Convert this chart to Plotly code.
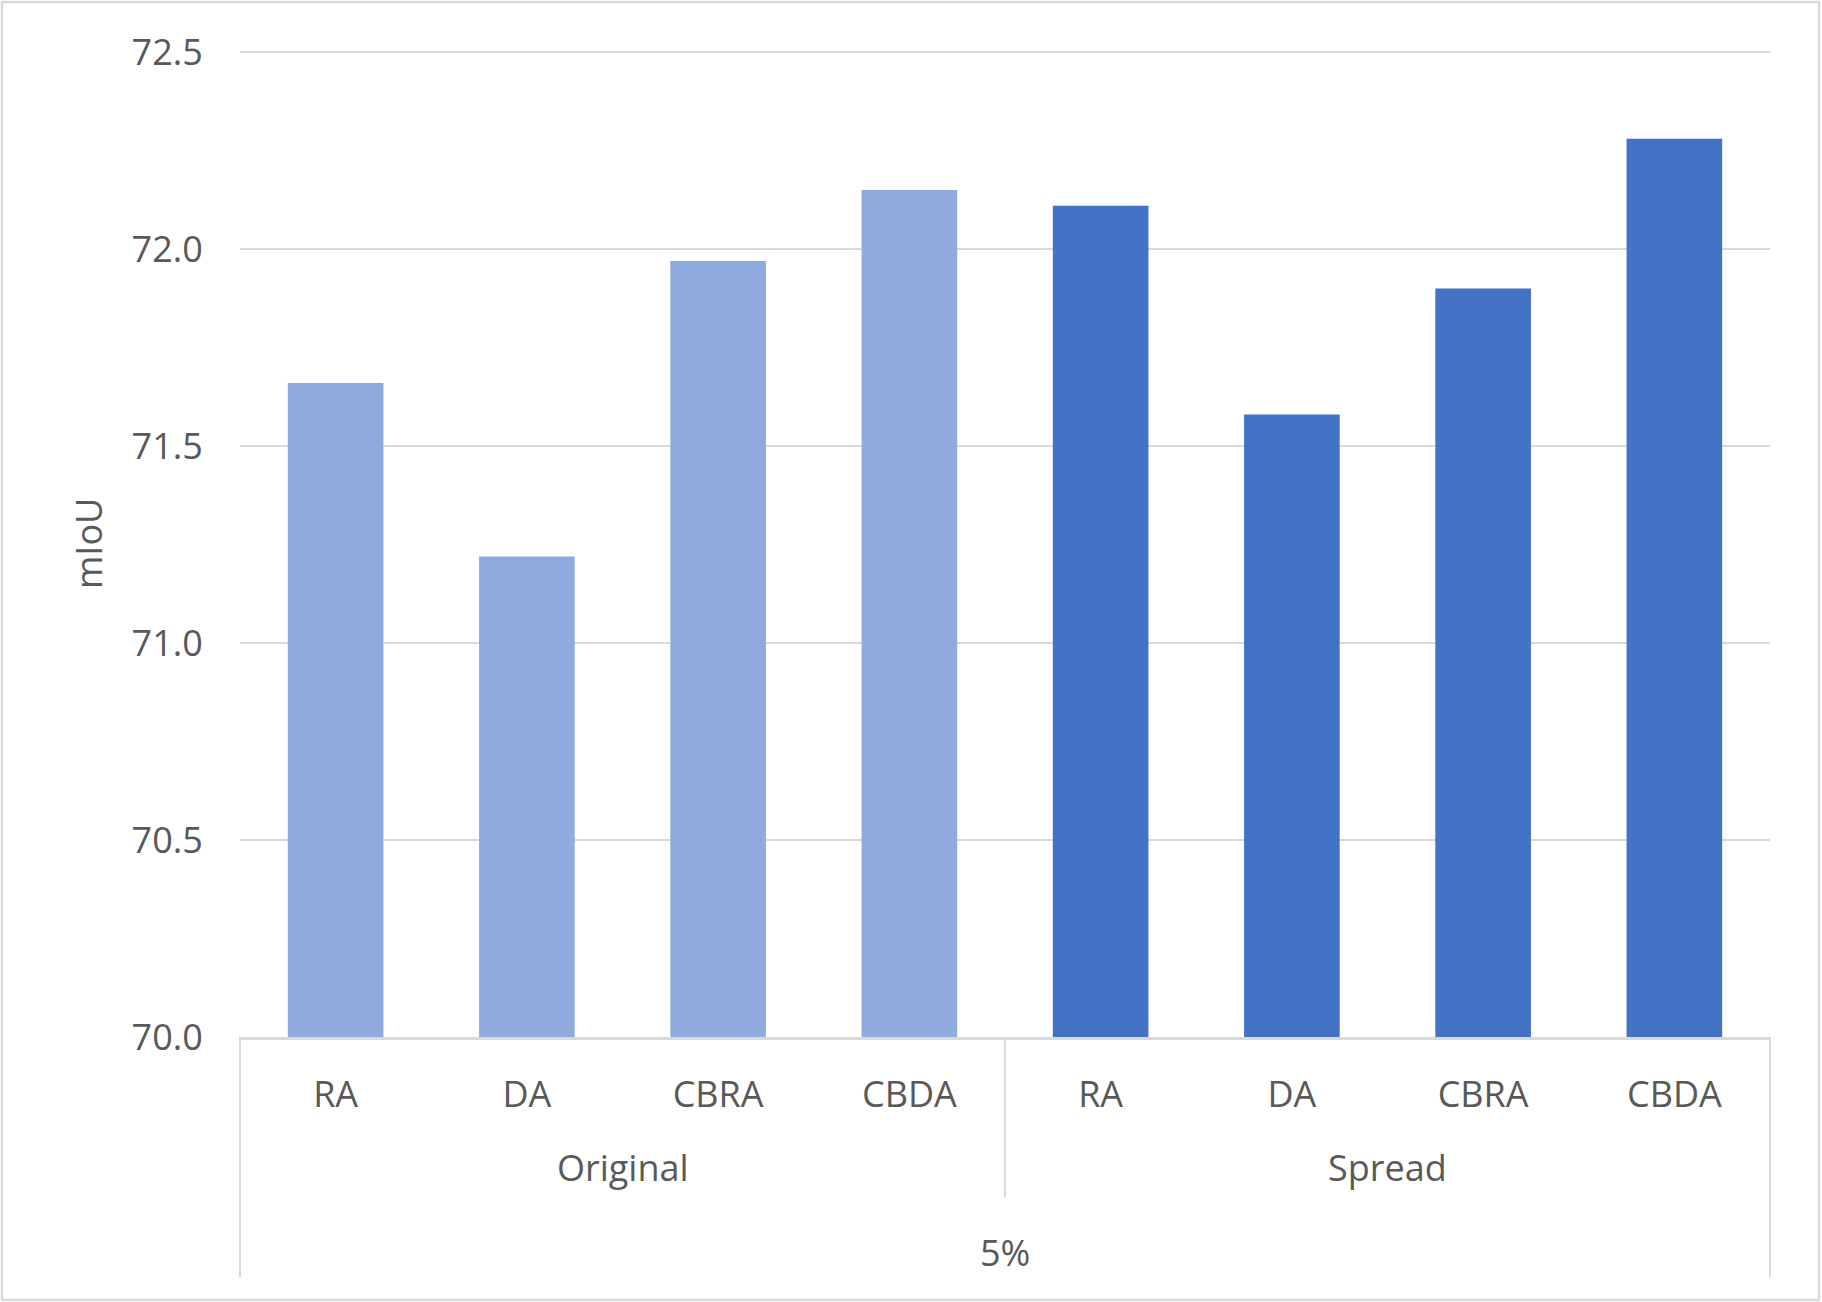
import plotly.graph_objects as go

# ---- data ----
categories = ["RA", "DA", "CBRA", "CBDA"]
groups = ["Original", "Spread"]
original_values = [71.66, 71.22, 71.97, 72.15]
spread_values = [72.11, 71.58, 71.90, 72.28]
top_level_label = "5%"
y_title = "mIoU"

# ---- layout constants (pixels) ----
W, H = 1822, 1302
ML, MR, MT, MB = 240, 52, 51, 265
PW, PH = W - ML - MR, H - MT - MB
FONT = "Segoe UI, Open Sans, Noto Sans, sans-serif"
TXT = "#595959"
LINE = "#d9d9d9"

def px_x(x):  # pixel -> paper x
    return (x - ML) / PW

def px_y(y):  # pixel -> paper y
    return (H - MB - y) / PH

fig = go.Figure()
colors = ["#8faadc", "#4472c4"]
values = [original_values, spread_values]
all_ids = []
all_text = []
for g, vals, col in zip(groups, values, colors):
    ids = [f"{g}|{c}" for c in categories]
    all_ids += ids
    all_text += categories
    fig.add_trace(go.Bar(x=ids, y=vals, marker=dict(color=col, line=dict(width=0)),
                         name=g, showlegend=False))

n = len(all_ids)
shapes = []
# vertical divider lines of the multi-level axis
shapes.append(dict(type="line", xref="paper", yref="paper", x0=0, x1=0,
                   y0=0, y1=px_y(1277), line=dict(color=LINE, width=2)))
shapes.append(dict(type="line", xref="paper", yref="paper", x0=1, x1=1,
                   y0=0, y1=px_y(1277), line=dict(color=LINE, width=2)))
for k in range(1, len(groups)):
    xf = k * len(categories) / n
    shapes.append(dict(type="line", xref="paper", yref="paper", x0=xf, x1=xf,
                       y0=0, y1=px_y(1197), line=dict(color=LINE, width=2)))
# outer chart border
shapes.append(dict(type="rect", xref="paper", yref="paper",
                   x0=px_x(2), x1=px_x(1819), y0=px_y(1300), y1=px_y(2),
                   line=dict(color=LINE, width=2.5), fillcolor="rgba(0,0,0,0)",
                   layer="below"))

annotations = []
for k, g in enumerate(groups):
    center = k * len(categories) + (len(categories) - 1) / 2
    annotations.append(dict(text=g, x=center, xref="x", y=px_y(1168), yref="paper",
                            showarrow=False, xanchor="center", yanchor="middle",
                            font=dict(family=FONT, size=36, color=TXT)))
annotations.append(dict(text=top_level_label, x=(n - 1) / 2, xref="x", y=px_y(1252),
                        yref="paper", showarrow=False, xanchor="center", yanchor="middle",
                        font=dict(family=FONT, size=36, color=TXT)))
annotations.append(dict(text=y_title, x=px_x(88), xref="paper", y=0.5, yref="paper",
                        textangle=-90, showarrow=False, xanchor="center", yanchor="middle",
                        font=dict(family=FONT, size=36, color=TXT)))

fig.update_layout(
    width=W, height=H,
    margin=dict(l=ML, r=MR, t=MT, b=MB, pad=0),
    paper_bgcolor="white", plot_bgcolor="white",
    barmode="overlay", bargap=0.5,
    font=dict(family=FONT, size=36, color=TXT),
    shapes=shapes, annotations=annotations,
    xaxis=dict(type="category", categoryorder="array", categoryarray=all_ids,
               tickmode="array", tickvals=all_ids, ticktext=all_text,
               showline=True, linecolor=LINE, linewidth=2.5,
               ticks="outside", ticklen=24, tickcolor="rgba(0,0,0,0)",
               showgrid=False, tickfont=dict(family=FONT, size=36, color=TXT)),
    yaxis=dict(range=[70, 72.503], dtick=0.5, tick0=70, tickformat=".1f",
               showgrid=True, gridcolor=LINE, gridwidth=2.2,
               zeroline=False, showline=False,
               ticks="outside", ticklen=29, tickcolor="rgba(0,0,0,0)",
               tickfont=dict(family=FONT, size=36, color=TXT)),
)

fig.write_html("out.html",
               config={"displayModeBar": False},
               post_script="document.body.style.margin='0';document.body.style.overflow='hidden';")
